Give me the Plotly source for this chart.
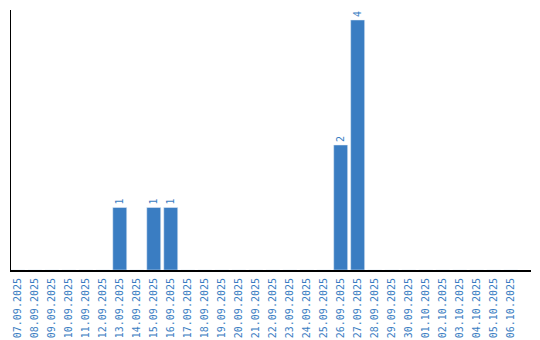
import plotly.graph_objects as go

dates = ["07.09.2025", "08.09.2025", "09.09.2025", "10.09.2025", "11.09.2025",
         "12.09.2025", "13.09.2025", "14.09.2025", "15.09.2025", "16.09.2025",
         "17.09.2025", "18.09.2025", "19.09.2025", "20.09.2025", "21.09.2025",
         "22.09.2025", "23.09.2025", "24.09.2025", "25.09.2025", "26.09.2025",
         "27.09.2025", "28.09.2025", "29.09.2025", "30.09.2025", "01.10.2025",
         "02.10.2025", "03.10.2025", "04.10.2025", "05.10.2025", "06.10.2025"]
counts = [0, 0, 0, 0, 0, 0, 1, 0, 1, 1,
          0, 0, 0, 0, 0, 0, 0, 0, 0, 2,
          4, 0, 0, 0, 0, 0, 0, 0, 0, 0]

blue = "#3a7dc2"
labels = [str(v) if v > 0 else "" for v in counts]

fig = go.Figure(go.Bar(
    x=list(range(len(dates))), y=counts, marker_color=blue,
    text=labels, textposition="outside", textangle=-90,
    textfont=dict(family="DejaVu Sans Mono", size=10, color=blue),
    cliponaxis=False,
))
fig.update_layout(
    width=540, height=340, margin=dict(l=11, r=9, t=10, b=70, autoexpand=False),
    paper_bgcolor="white", plot_bgcolor="white", bargap=0.18,
    showlegend=False,
    xaxis=dict(tickmode="array", tickvals=list(range(len(dates))), ticktext=dates,
               tickangle=-90, range=[-0.4, 30.2], showline=True, linecolor="black",
               linewidth=2, showgrid=False, zeroline=False, automargin=False,
               ticks="outside", ticklen=2, tickcolor="rgba(0,0,0,0)",
               tickfont=dict(family="DejaVu Sans Mono", size=10, color=blue)),
    yaxis=dict(range=[0, 4.16], showline=True, linecolor="black", linewidth=1,
               showgrid=False, zeroline=False, showticklabels=False, ticks="",
               automargin=False),
)
fig.write_html("out.html")
